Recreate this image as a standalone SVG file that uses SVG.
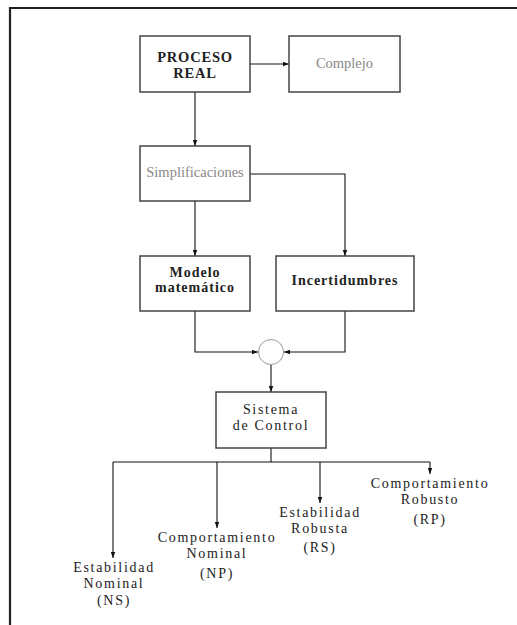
<svg xmlns="http://www.w3.org/2000/svg" width="517" height="625" viewBox="0 0 517 625">
<defs>
<marker id="ah" viewBox="0 0 8 6" refX="8" refY="3" markerWidth="6" markerHeight="5" orient="auto" markerUnits="userSpaceOnUse">
<path d="M0,0 L8,3 L0,6 z" fill="#111"/>
</marker>
<style>
.box{fill:#fff;stroke:#444;stroke-width:1.5}
.t{font-family:"Liberation Serif","DejaVu Serif",serif;font-size:14px;letter-spacing:1.7px;text-anchor:middle;fill:#222}
.b{font-weight:bold;letter-spacing:1px}
.p{font-size:14.5px;letter-spacing:0.8px}
.g{fill:#888;font-size:14.5px;letter-spacing:0}
.c{fill:none;stroke:#111;stroke-width:1.1}
.a{marker-end:url(#ah)}
</style>
</defs>
<rect width="517" height="625" fill="#fff"/>
<path d="M10,625 V8 H517" fill="none" stroke="#222" stroke-width="2.2"/>

<g id="connectors">
<path class="c a" d="M250,64 H289"/>
<path class="c a" d="M195,92 V146"/>
<path class="c a" d="M250,174 H345 V256"/>
<path class="c a" d="M195,201 V256"/>
<path class="c a" d="M195,311 V352 H258"/>
<path class="c a" d="M345,311 V352 H284"/>
<path class="c a" d="M271,365 V392"/>
<path class="c" d="M271,448 V462"/>
<path class="c" d="M113,462 H430"/>
<path class="c a" d="M113,462 V558"/>
<path class="c a" d="M217,462 V528"/>
<path class="c a" d="M320,462 V503"/>
<path class="c a" d="M430,462 V474"/>
</g>

<g id="proceso-real">
<rect class="box" x="140" y="36" width="110" height="56"/>
<text class="t b p" x="195" y="62">PROCESO</text>
<text class="t b p" x="195" y="78">REAL</text>
</g>
<g id="complejo">
<rect class="box" x="289" y="36" width="111" height="56"/>
<text class="t g" x="344.5" y="68">Complejo</text>
</g>
<g id="simplificaciones">
<rect class="box" x="140" y="146" width="110" height="55"/>
<text class="t g" x="195" y="177">Simplificaciones</text>
</g>
<g id="modelo">
<rect class="box" x="140" y="256" width="110" height="55"/>
<text class="t b" x="195" y="277">Modelo</text>
<text class="t b" x="195" y="292">matemático</text>
</g>
<g id="incertidumbres">
<rect class="box" x="276" y="256" width="138" height="55"/>
<text class="t b" x="345" y="285">Incertidumbres</text>
</g>
<g id="suma">
<circle cx="271" cy="352" r="12.5" fill="#fff" stroke="#999" stroke-width="1"/>
</g>
<g id="sistema">
<rect class="box" x="216" y="392" width="110" height="56"/>
<text class="t" x="271" y="414">Sistema</text>
<text class="t" x="271" y="430">de Control</text>
</g>
<g id="ns">
<text class="t" x="114" y="572">Estabilidad</text>
<text class="t" x="114" y="588">Nominal</text>
<text class="t" x="114" y="605">(NS)</text>
</g>
<g id="np">
<text class="t" x="217" y="542">Comportamiento</text>
<text class="t" x="217" y="558">Nominal</text>
<text class="t" x="217" y="578">(NP)</text>
</g>
<g id="rs">
<text class="t" x="320" y="517">Estabilidad</text>
<text class="t" x="320" y="533">Robusta</text>
<text class="t" x="320" y="552">(RS)</text>
</g>
<g id="rp">
<text class="t" x="430" y="488">Comportamiento</text>
<text class="t" x="430" y="504">Robusto</text>
<text class="t" x="430" y="524">(RP)</text>
</g>
</svg>
